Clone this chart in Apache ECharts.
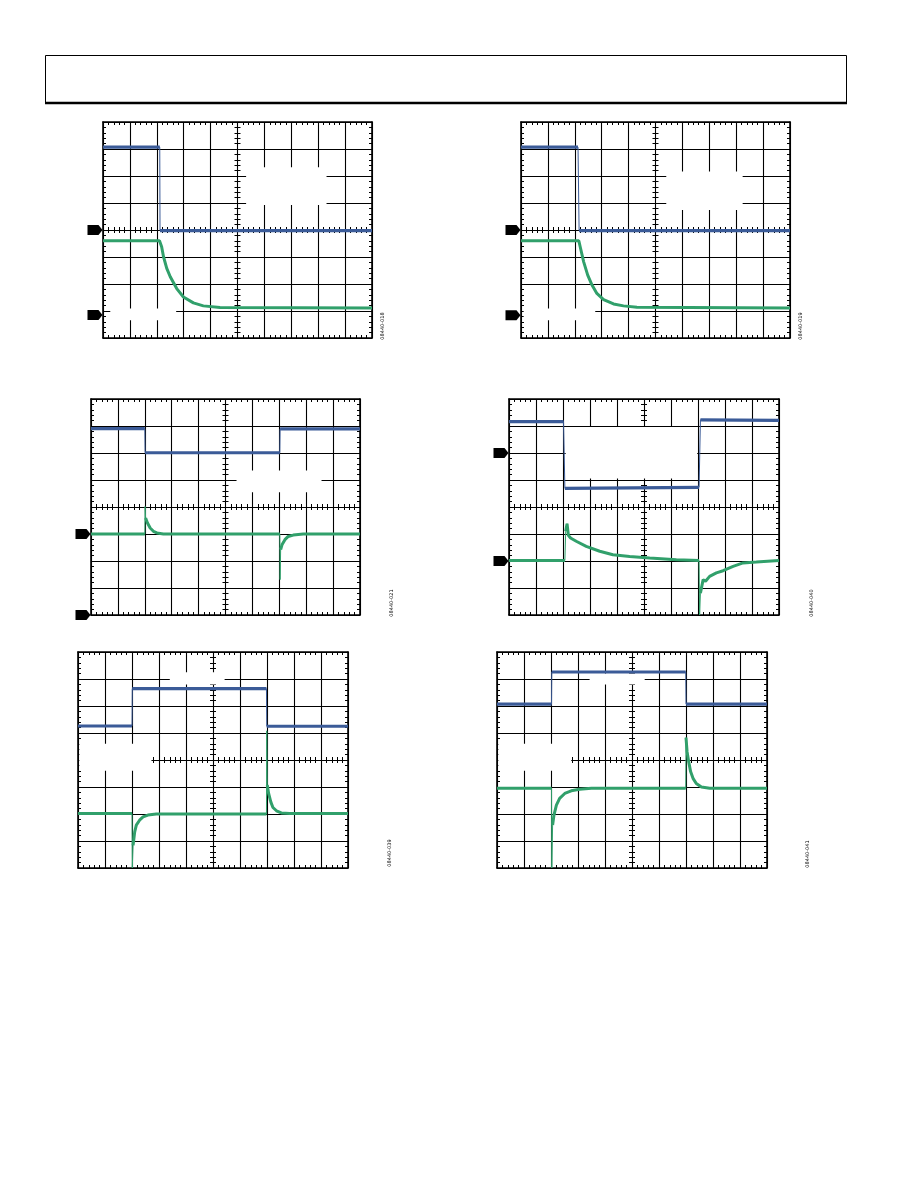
<!DOCTYPE html>
<html><head><meta charset="utf-8">
<script src="https://cdn.jsdelivr.net/npm/echarts@6/dist/echarts.min.js"></script>
<style>html,body{margin:0;padding:0;background:#fff}#c{width:918px;height:1188px}</style>
</head><body><div id="c"></div><script>
// ---- data (x in divisions 0..10, y in divisions 0..8) ----
const p1Blue  = [[0,7.07],[2.11,7.07],[2.12,3.98],[10,3.98]];
const p1Green = [[0,3.60],[2.10,3.60],[2.18,3.38],[2.25,3.01],[2.37,2.58],[2.50,2.27],[2.74,1.83],[2.99,1.52],[3.36,1.30],[3.73,1.19],[4.35,1.13],[10,1.11]];
const p1Marks = [4, 0.85];

const p2Blue  = [[0,7.07],[2.12,7.07],[2.16,3.98],[10,3.98]];
const p2Green = [[0,3.60],[2.15,3.60],[2.20,3.38],[2.33,2.82],[2.48,2.33],[2.64,1.96],[2.82,1.65],[3.07,1.42],[3.44,1.26],[3.81,1.19],[4.31,1.14],[10,1.11]];
const p2Marks = [4, 0.84];

const p3Blue  = [[0,6.90],[2.0,6.90],[2.01,6.01],[7.02,6.01],[7.03,6.89],[10,6.89]];
const p3Green = [[0,3.0],[2.0,3.0],[2.01,4.02],[2.03,3.59],[2.10,3.41],[2.20,3.22],[2.32,3.10],[2.45,3.04],[2.69,3.0],[7.02,3.0],[7.03,1.31],[7.05,2.42],[7.10,2.60],[7.21,2.79],[7.33,2.91],[7.52,2.96],[7.89,3.0],[10,3.0]];
const p3Marks = [3, 0];

const p4Blue  = [[0,7.16],[2.02,7.16],[2.07,4.69],[7.04,4.73],[7.09,7.23],[10,7.21]];
const p4Green = [[0,2.02],[2.07,2.02],[2.10,3.10],[2.15,3.38],[2.20,2.95],[2.28,2.85],[2.49,2.73],[2.86,2.54],[3.36,2.36],[3.85,2.23],[4.47,2.17],[5.21,2.11],[6.20,2.05],[7.04,2.02],[7.06,0.0],[7.09,0.81],[7.19,1.31],[7.28,1.25],[7.43,1.43],[7.68,1.56],[7.93,1.64],[8.30,1.80],[8.67,1.93],[9.16,1.96],[10,2.02]];
const p4Marks = [6, 2];

const p5Blue  = [[0,5.26],[2.0,5.26],[2.01,6.64],[6.98,6.64],[6.99,5.25],[10,5.25]];
const p5Green = [[0,2.02],[2.0,2.02],[2.01,0],[2.04,0.84],[2.10,1.34],[2.16,1.59],[2.28,1.77],[2.41,1.89],[2.59,1.96],[2.90,2.0],[6.98,2.0],[6.99,5.08],[7.01,3.07],[7.06,2.76],[7.14,2.45],[7.22,2.24],[7.35,2.12],[7.53,2.04],[7.84,2.02],[10,2.02]];
const p5Marks = [];

const p6Blue  = [[0,6.07],[2.02,6.07],[2.03,7.26],[6.99,7.26],[7.0,6.07],[10,6.07]];
const p6Green = [[0,2.95],[2.02,2.95],[2.03,0],[2.06,1.59],[2.11,1.96],[2.20,2.33],[2.32,2.58],[2.51,2.76],[2.75,2.86],[3.06,2.92],[3.5,2.95],[6.99,2.95],[7.0,4.83],[7.04,4.31],[7.10,3.94],[7.17,3.57],[7.26,3.32],[7.38,3.13],[7.57,3.0],[7.88,2.95],[10,2.95]];
const p6Marks = [];

const figIds = ['08440-018','08440-019','08440-021','08440-040','08440-039','08440-041'];

// blanked graticule areas [x1,x2,y1,y2] in divisions
const p1Gaps = [[5.32,8.31,4.93,6.32],[0.27,2.72,0.66,1.09]];
const p2Gaps = [[5.40,8.24,4.74,6.17],[0.10,2.76,0.66,1.09]];
const p3Gaps = [[5.41,8.57,4.55,5.35]];
const p4Gaps = [[2.10,6.97,5.06,6.96]];
const p5Gaps = [[3.40,5.43,6.80,7.25],[0.05,2.72,3.60,4.60]];
const p6Gaps = [[3.43,5.47,6.80,7.20],[0.05,2.75,3.60,4.60]];

// ---- layout ----
const grids = [
  {left:103, top:122, width:269, height:216},
  {left:521, top:122, width:269, height:216},
  {left:91,  top:399, width:269, height:216},
  {left:509, top:399, width:270, height:216},
  {left:78,  top:652, width:270, height:216},
  {left:497, top:652, width:270, height:216}
];
const labelPos = [[383,326],[801,326],[392,603],[812,603],[390,853],[808,854]];

const plots = [
  {blue:p1Blue, green:p1Green, marks:p1Marks, gaps:p1Gaps},
  {blue:p2Blue, green:p2Green, marks:p2Marks, gaps:p2Gaps},
  {blue:p3Blue, green:p3Green, marks:p3Marks, gaps:p3Gaps},
  {blue:p4Blue, green:p4Green, marks:p4Marks, gaps:p4Gaps},
  {blue:p5Blue, green:p5Green, marks:p5Marks, gaps:p5Gaps},
  {blue:p6Blue, green:p6Green, marks:p6Marks, gaps:p6Gaps}
];

const BLUE = '#3b5b98', GREEN = '#31a06b';

function mkAxis(dim, g, pos, offset, o) {
  return {
    type:'value', gridIndex:g, position:pos, offset:offset,
    min:0, max: dim === 'x' ? 10 : 8, interval:1,
    axisLabel:{show:false},
    axisLine:{show:!!o.line, onZero:false, lineStyle:{color:'#000', width:1.6}},
    axisTick:{show:false, inside:!!o.inside},
    minorTick:{show:true, splitNumber:5, length:3, lineStyle:{color:'#000', width:1}},
    splitLine:{show:!!o.split, lineStyle:{color:'#000', width:1.1}},
    minorSplitLine:{show:false}
  };
}

const xAxes = [], yAxes = [], series = [];
grids.forEach((gr, g) => {
  const hh = gr.height / 2, hw = gr.width / 2;
  xAxes.push(mkAxis('x', g, 'bottom', 0, {line:true, inside:true, split:true}));
  xAxes.push(mkAxis('x', g, 'top', 0, {line:true, inside:true}));
  xAxes.push(mkAxis('x', g, 'bottom', -hh, {inside:true}));
  xAxes.push(mkAxis('x', g, 'bottom', -hh, {inside:false}));
  yAxes.push(mkAxis('y', g, 'left', 0, {line:true, inside:true, split:true}));
  yAxes.push(mkAxis('y', g, 'right', 0, {line:true, inside:true}));
  yAxes.push(mkAxis('y', g, 'left', -hw, {inside:true}));
  yAxes.push(mkAxis('y', g, 'left', -hw, {inside:false}));
});

function trace(data, color, g, w) {
  const base = {type:'line', xAxisIndex:g*4, yAxisIndex:g*4, symbol:'none', showSymbol:false,
                silent:true, animation:false, connectNulls:false};
  const thick = [];
  data.forEach((pt, i) => {
    if (i > 0) {
      const pr = data[i-1];
      const dx = Math.abs(pt[0]-pr[0]) || 1e-9;
      if (Math.abs(pt[1]-pr[1]) / dx > 15) thick.push([(pt[0]+pr[0])/2, null]);
    }
    thick.push(pt);
  });
  series.push(Object.assign({}, base, {data:data, z:3, lineStyle:{color:color, width:1}}));
  series.push(Object.assign({}, base, {data:thick, z:4, lineStyle:{color:color, width:w, cap:'butt'}}));
}

plots.forEach((p, g) => {
  series.push({type:'line', xAxisIndex:g*4, yAxisIndex:g*4, data:[], z:1, silent:true, animation:false,
    markArea:{silent:true, animation:false, itemStyle:{color:'#fff'},
      data:p.gaps.map(r => [{coord:[r[0], r[2]]}, {coord:[r[1], r[3]]}])}});
  trace(p.blue, BLUE, g, 3.2);
  trace(p.green, GREEN, g, 3.0);
  if (p.marks.length) {
    series.push({type:'scatter', xAxisIndex:g*4, yAxisIndex:g*4, clip:false, silent:true, animation:false, z:6,
      data:p.marks.map(y => [0, y]),
      symbol:'path://M0,0L11,0L15,5L11,10L0,10Z', symbolSize:[15,10], symbolOffset:[-8,0],
      itemStyle:{color:'#000', opacity:1}});
  }
});

const graphic = [
  {type:'rect', shape:{x:45.5, y:55.5, width:801, height:47}, style:{fill:null, stroke:'#000', lineWidth:1}, silent:true},
  {type:'line', shape:{x1:45, y1:103, x2:847, y2:103}, style:{stroke:'#000', lineWidth:2.5}, silent:true}
];
figIds.forEach((t, i) => {
  graphic.push({type:'text', x:labelPos[i][0], y:labelPos[i][1], rotation:Math.PI/2, silent:true,
    style:{text:t, fontSize:5, fontFamily:'DejaVu Sans', fill:'#000', align:'center', verticalAlign:'middle'}});
});

const chart = echarts.init(document.getElementById('c'));
chart.setOption({
  animation:false,
  backgroundColor:'#fff',
  grid:grids.map(gr => Object.assign({}, gr, {containLabel:false, show:false})),
  xAxis:xAxes, yAxis:yAxes, series:series, graphic:graphic
});
</script></body></html>
